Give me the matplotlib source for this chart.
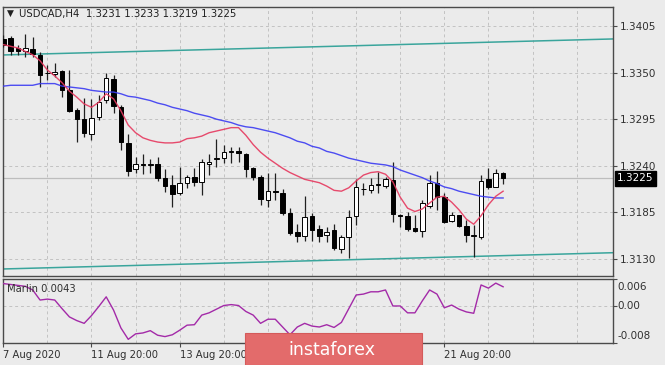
import numpy as np
import matplotlib
matplotlib.use("Agg")
import matplotlib.pyplot as plt
from matplotlib.patches import Rectangle

# ---------------- data ----------------
symbol_title = "USDCAD,H4  1.3231 1.3233 1.3219 1.3225"

opens = [1.3390, 1.3391, 1.3379, 1.3376, 1.3378, 1.3371, 1.3350, 1.3348, 1.3352, 1.3329,
         1.3306, 1.3295, 1.3278, 1.3298, 1.3318, 1.3342, 1.3309, 1.3267, 1.3236, 1.3242,
         1.3241, 1.3242, 1.3226, 1.3217, 1.3208, 1.3220, 1.3227, 1.3221, 1.3242, 1.3248,
         1.3249, 1.3256, 1.3258, 1.3254, 1.3237, 1.3227, 1.3200, 1.3210, 1.3208, 1.3184,
         1.3162, 1.3157, 1.3181, 1.3165, 1.3158, 1.3164, 1.3142, 1.3156, 1.3181, 1.3212,
         1.3211, 1.3217, 1.3216, 1.3223, 1.3182, 1.3181, 1.3167, 1.3163, 1.3193, 1.3220,
         1.3203, 1.3175, 1.3182, 1.3169, 1.3157, 1.3156, 1.3224, 1.3215, 1.3231]
highs = [1.3394, 1.3393, 1.3383, 1.3396, 1.3392, 1.3374, 1.3359, 1.3361, 1.3353, 1.3353,
         1.3308, 1.3320, 1.3319, 1.3324, 1.3350, 1.3347, 1.3312, 1.3278, 1.3250, 1.3254,
         1.3248, 1.3250, 1.3236, 1.3229, 1.3239, 1.3229, 1.3237, 1.3248, 1.3254, 1.3272,
         1.3265, 1.3262, 1.3262, 1.3255, 1.3239, 1.3229, 1.3232, 1.3232, 1.3213, 1.3190,
         1.3171, 1.3204, 1.3184, 1.3170, 1.3168, 1.3171, 1.3158, 1.3188, 1.3224, 1.3220,
         1.3226, 1.3233, 1.3227, 1.3245, 1.3183, 1.3185, 1.3182, 1.3200, 1.3229, 1.3234,
         1.3208, 1.3186, 1.3182, 1.3176, 1.3170, 1.3229, 1.3237, 1.3236, 1.3233]
lows = [1.3380, 1.3371, 1.3371, 1.3368, 1.3368, 1.3333, 1.3341, 1.3345, 1.3321, 1.3304,
        1.3268, 1.3274, 1.3270, 1.3294, 1.3314, 1.3302, 1.3259, 1.3228, 1.3232, 1.3230,
        1.3232, 1.3222, 1.3209, 1.3191, 1.3206, 1.3214, 1.3216, 1.3206, 1.3229, 1.3239,
        1.3243, 1.3243, 1.3245, 1.3227, 1.3223, 1.3194, 1.3191, 1.3200, 1.3182, 1.3158,
        1.3150, 1.3151, 1.3151, 1.3150, 1.3150, 1.3141, 1.3137, 1.3131, 1.3170, 1.3206,
        1.3208, 1.3208, 1.3214, 1.3174, 1.3168, 1.3163, 1.3162, 1.3156, 1.3190, 1.3188,
        1.3173, 1.3174, 1.3168, 1.3150, 1.3132, 1.3154, 1.3213, 1.3215, 1.3219]
closes = [1.3383, 1.3376, 1.3376, 1.3379, 1.3372, 1.3347, 1.3349, 1.3351, 1.3329, 1.3305,
          1.3295, 1.3279, 1.3296, 1.3315, 1.3344, 1.3311, 1.3268, 1.3234, 1.3242, 1.3241,
          1.3242, 1.3226, 1.3216, 1.3207, 1.3220, 1.3227, 1.3221, 1.3245, 1.3245, 1.3249,
          1.3256, 1.3257, 1.3255, 1.3236, 1.3227, 1.3201, 1.3210, 1.3209, 1.3184, 1.3161,
          1.3157, 1.3180, 1.3164, 1.3157, 1.3162, 1.3143, 1.3156, 1.3180, 1.3215, 1.3213,
          1.3217, 1.3218, 1.3224, 1.3183, 1.3181, 1.3165, 1.3163, 1.3196, 1.3220, 1.3203,
          1.3174, 1.3182, 1.3169, 1.3158, 1.3157, 1.3222, 1.3215, 1.3231, 1.3225]

ma_fast = [1.3383, 1.3381, 1.3379, 1.3375, 1.3371, 1.3364, 1.3353, 1.3346, 1.3338, 1.3328,
           1.3321, 1.3313, 1.3309, 1.3315, 1.3325, 1.3319, 1.3305, 1.3288, 1.3279, 1.3273,
           1.3270, 1.3268, 1.3267, 1.3267, 1.3268, 1.3272, 1.3273, 1.3275, 1.3279, 1.3281,
           1.3283, 1.3285, 1.3285, 1.3276, 1.3265, 1.3256, 1.3249, 1.3243, 1.3237, 1.3232,
           1.3228, 1.3224, 1.3222, 1.3220, 1.3216, 1.3211, 1.3210, 1.3214, 1.3222, 1.3229,
           1.3232, 1.3233, 1.3230, 1.3221, 1.3203, 1.3190, 1.3186, 1.3189, 1.3196, 1.3203,
           1.3204, 1.3197, 1.3188, 1.3177, 1.3171, 1.3181, 1.3194, 1.3204, 1.3210]
ma_slow = [1.3334, 1.3335, 1.3335, 1.3335, 1.3335, 1.3337, 1.3337, 1.3337, 1.3334, 1.3333,
           1.3332, 1.3331, 1.3329, 1.3328, 1.3327, 1.3327, 1.3325, 1.3322, 1.3321, 1.3319,
           1.3317, 1.3314, 1.3312, 1.3309, 1.3307, 1.3305, 1.3302, 1.3300, 1.3298, 1.3295,
           1.3293, 1.3291, 1.3288, 1.3286, 1.3285, 1.3283, 1.3281, 1.3279, 1.3276, 1.3273,
           1.3269, 1.3267, 1.3263, 1.3261, 1.3257, 1.3255, 1.3252, 1.3249, 1.3247, 1.3245,
           1.3243, 1.3242, 1.3241, 1.3239, 1.3235, 1.3232, 1.3229, 1.3226, 1.3222, 1.3219,
           1.3215, 1.3213, 1.3210, 1.3208, 1.3206, 1.3204, 1.3203, 1.3202, 1.3202]

marlin = [0.0050, 0.0048, 0.0046, 0.0044, 0.0036, 0.0014, 0.0016, 0.0014, -0.0005, -0.0023,
          -0.0031, -0.0037, -0.0020, 0.0000, 0.0021, -0.0008, -0.0047, -0.0072, -0.0060, -0.0058,
          -0.0053, -0.0063, -0.0066, -0.0062, -0.0052, -0.0041, -0.0040, -0.0019, -0.0014, -0.0006,
          0.0002, 0.0004, 0.0002, -0.0011, -0.0019, -0.0037, -0.0028, -0.0028, -0.0045, -0.0062,
          -0.0045, -0.0037, -0.0043, -0.0045, -0.0040, -0.0046, -0.0035, -0.0005, 0.0025, 0.0027,
          0.0032, 0.0032, 0.0036, 0.0001, 0.0001, -0.0014, -0.0014, 0.0012, 0.0036, 0.0027,
          -0.0003, 0.0003, -0.0006, -0.0012, -0.0015, 0.0047, 0.0040, 0.0051, 0.0043]
marlin_label = "Marlin 0.0043"

channel_x = [0, 83]
channel_upper = [1.33708, 1.33897]
channel_lower = [1.31182, 1.31374]

last_price = 1.3225
price_ticks = [1.3405, 1.3350, 1.3295, 1.3240, 1.3185, 1.3130]
ind_ticks = [0.006, 0.0, -0.008]
ind_tick_labels = ["0.006", "0.00", "-0.008"]
# labels at 36 and 48 are hidden behind the watermark in the reference
date_tick_idx = [0, 12, 24, 36, 48, 60]
date_tick_labels = ["7 Aug 2020", "11 Aug 20:00", "13 Aug 20:00", "", "", "21 Aug 20:00"]
grid_idx = list(range(6, 83, 6))

# ---------------- style ----------------
BG = "#ebebeb"
GRID = "#c2c2c2"
TXT = "#303030"
W, H = 665, 365
plt.rcParams["font.family"] = ["DejaVu Sans"]


def fx(px):
    return px / W


def fy(py):
    return 1 - py / H


fig = plt.figure(figsize=(6.65, 3.65), dpi=100, facecolor=BG)
ax = fig.add_axes([fx(3), fy(276), fx(613) - fx(3), fy(7) - fy(276)], facecolor=BG)
ax2 = fig.add_axes([fx(3), fy(343), fx(613) - fx(3), fy(279) - fy(343)], facecolor=BG)

xlim = (-0.04, 82.95)
for a in (ax, ax2):
    a.set_xlim(*xlim)
    for s in a.spines.values():
        s.set_color("#4a4a4a")
        s.set_linewidth(1.0)
    for g in grid_idx:
        a.axvline(g, color=GRID, lw=0.7, ls=(0, (3, 3)), zorder=0)

# main panel
ax.set_ylim(1.31099, 1.34274)
for p in price_ticks:
    ax.axhline(p, color=GRID, lw=0.7, ls=(0, (3, 3)), zorder=0)
ax.axhline(last_price, color="#bdbdbd", lw=0.9, zorder=1)

ax.plot(channel_x, channel_upper, color="#3aa59c", lw=1.1, zorder=2)
ax.plot(channel_x, channel_lower, color="#3aa59c", lw=1.1, zorder=2)

idx = np.arange(len(opens))
o = np.array(opens)
c = np.array(closes)
h = np.array(highs)
l = np.array(lows)
up = c >= o
ax.vlines(idx, l, h, color="#202020", lw=0.9, zorder=3)
bottom = np.minimum(o, c)
height = np.maximum(np.abs(c - o), 0.00008)
ax.bar(idx, height, bottom=bottom, width=0.62,
       color=np.where(up, "white", "black"), edgecolor="black", lw=0.7, zorder=4)

ax.plot(idx, ma_slow, color="#3b3bf2", lw=1.0, zorder=5, alpha=0.9)
ax.plot(idx, ma_fast, color="#e6385e", lw=1.0, zorder=5, alpha=0.9)

ax.yaxis.tick_right()
ax.set_yticks(price_ticks)
ax.set_yticklabels([f"{p:.4f}" for p in price_ticks])
ax.tick_params(axis="y", length=3, width=0.8, pad=2, labelsize=7.5,
               colors="#4a4a4a", labelcolor=TXT)
ax.set_xticks([])

ax.annotate(f"{last_price:.4f}", xy=(1, last_price), xycoords=("axes fraction", "data"),
            xytext=(4, 0), textcoords="offset pixels", ha="left", va="center",
            fontsize=7.5, color="white",
            bbox=dict(boxstyle="square,pad=0.2", fc="black", ec="black"), zorder=10,
            annotation_clip=False)

fig.text(fx(7), fy(13), "\u25bc", fontsize=6.5, color="#202020", ha="left", va="center")
fig.text(fx(19), fy(13.5), symbol_title, fontsize=7.3, color="#202020",
         ha="left", va="center")

# indicator panel
ax2.set_ylim(-0.008, 0.006)
ax2.axhline(0.0, color=GRID, lw=0.7, ls=(0, (3, 3)), zorder=0)
ax2.plot(idx, marlin, color="#a32aa8", lw=1.0, zorder=3)
ax2.text(fx(7 - 3) / (fx(613) - fx(3)), 1 - 10 / 64, marlin_label, transform=ax2.transAxes,
         fontsize=7.2, color=TXT, ha="left", va="center", zorder=4)

ax2.yaxis.tick_right()
ax2.set_yticks(ind_ticks)
ax2.set_yticklabels([])
ax2.tick_params(axis="y", length=3, width=0.8, colors="#4a4a4a")
offsets = [-8, 0, 7]
for v, lab, dy in zip(ind_ticks, ind_tick_labels, offsets):
    ax2.annotate(lab, xy=(1, v), xycoords=("axes fraction", "data"),
                 xytext=(4, dy), textcoords="offset pixels", ha="left", va="center",
                 fontsize=7.5, color=TXT, annotation_clip=False)

ax2.set_xticks(date_tick_idx)
ax2.set_xticklabels(date_tick_labels)
ax2.tick_params(axis="x", length=3, width=0.8, pad=2, labelsize=7.2,
                colors="#4a4a4a", labelcolor=TXT)
for lab in ax2.get_xticklabels():
    lab.set_ha("left")

# watermark
fig.add_artist(Rectangle((fx(245), 0), fx(422) - fx(245), fy(333), transform=fig.transFigure,
                         fc="#e36b6b", ec="#d45a5a", lw=0.8, zorder=20))
fig.text(fx(332), fy(355), "instaforex", fontsize=12.5, color="white",
         ha="center", va="baseline", zorder=21)

fig.savefig("out.png", dpi=100, facecolor=BG)
